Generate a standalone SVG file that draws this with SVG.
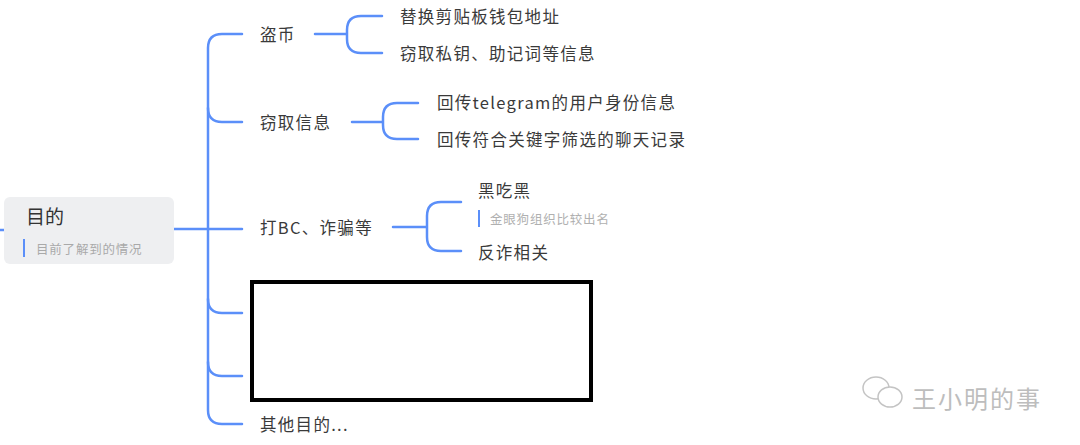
<svg xmlns="http://www.w3.org/2000/svg" width="1080" height="445" viewBox="0 0 1080 445">
<style>
.ln{fill:none;stroke:#5b8ff9;stroke-width:2.5;stroke-linecap:round}
.t{font-family:"Noto Sans CJK SC","Noto Sans",sans-serif;font-size:16.5px;letter-spacing:1.3px;fill:#3a3a3a;dominant-baseline:central}
.n{font-family:"Noto Sans CJK SC","Noto Sans",sans-serif;font-size:12.5px;letter-spacing:0.8px;fill:#b0b0b0;dominant-baseline:central}
</style>
<rect width="1080" height="445" fill="#fff"/>
<g id="connectors">
<path class="ln" d="M0 230 H4"/>
<path class="ln" d="M174 229 H242"/>
<path class="ln" d="M242 34 H222 Q208 34 208 48 V410 Q208 424 222 424 H242"/>
<path class="ln" d="M208 108 Q208 122 222 122 H242"/>
<path class="ln" d="M208 299 Q208 313 222 313 H242"/>
<path class="ln" d="M208 362 Q208 376 222 376 H242"/>
<path class="ln" d="M315 34 H347 M382 16 H361 Q347 16 347 30 V39 Q347 53 361 53 H382"/>
<path class="ln" d="M352 122 H383 M418 103 H397 Q383 103 383 117 V125 Q383 139 397 139 H418"/>
<path class="ln" d="M393 227 H427 M461 202 H441 Q427 202 427 216 V237 Q427 251 441 251 H461"/>
</g>
<g id="root">
<rect x="4" y="197" width="170" height="67" rx="6" fill="#eeeff1"/>
<text x="26" y="215" class="t" style="font-size:19px;letter-spacing:0;fill:#333">目的</text>
<rect x="23" y="239" width="2" height="18" fill="#5b8ff9"/>
<text x="36" y="248" class="n" style="fill:#a9a9a9">目前了解到的情况</text>
</g>
<g id="n-daobi"><text x="260" y="34" class="t">盗币</text></g>
<g id="n-daobi-1"><text x="400" y="16" class="t">替换剪贴板钱包地址</text></g>
<g id="n-daobi-2"><text x="400" y="53" class="t">窃取私钥、助记词等信息</text></g>
<g id="n-qiequ"><text x="260" y="122" class="t">窃取信息</text></g>
<g id="n-qiequ-1"><text x="437" y="102" class="t">回传telegram的用户身份信息</text></g>
<g id="n-qiequ-2"><text x="437" y="139" class="t">回传符合关键字筛选的聊天记录</text></g>
<g id="n-dabc"><text x="260" y="227" class="t">打BC、诈骗等</text></g>
<g id="n-hei">
<text x="478" y="190" class="t">黑吃黑</text>
<rect x="478" y="210" width="2" height="17" fill="#5b8ff9"/>
<text x="490" y="218" class="n">金眼狗组织比较出名</text>
</g>
<g id="n-fanzha"><text x="478" y="252" class="t">反诈相关</text></g>
<g id="n-other"><text x="260" y="424" class="t">其他目的...</text></g>
<g id="redact"><rect x="252" y="282" width="339" height="118" fill="#fff" stroke="#000" stroke-width="4"/></g>
<g id="watermark" fill="#fff" stroke="#c4c4c4" stroke-width="1.5">
<ellipse cx="876" cy="388" rx="13" ry="11"/>
<ellipse cx="890" cy="397" rx="12" ry="10"/>
<text x="912" y="397" style="font-family:'Noto Sans CJK SC',sans-serif;font-size:24px;letter-spacing:2px;fill:#bdbdbd;stroke:none;dominant-baseline:central">王小明的事</text>
</g>
</svg>
